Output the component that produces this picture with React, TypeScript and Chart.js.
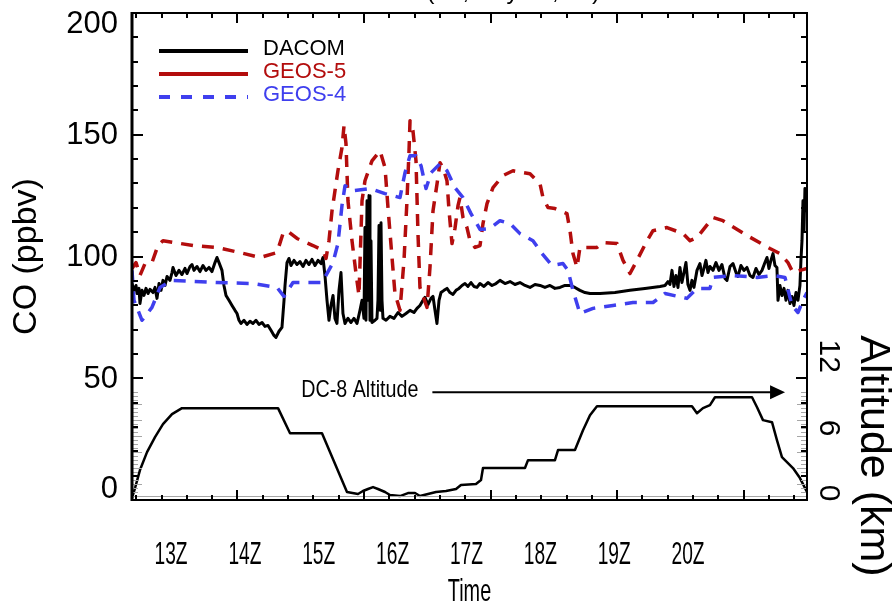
import React, { useEffect, useRef } from "react";
import { Chart, registerables } from "chart.js";

Chart.register(...registerables);

// ---------------- DATA (time in UTC hours) ----------------
const timeDACOM = [
  12.5, 12.526, 12.553, 12.566, 12.592, 12.605, 12.632, 12.658, 12.684, 12.711, 12.737, 12.777, 12.803, 12.829, 12.856, 12.882,
  12.908, 12.935, 12.961, 13.0, 13.027, 13.04, 13.079, 13.119, 13.158, 13.198, 13.224, 13.264, 13.29, 13.316, 13.356, 13.395,
  13.435, 13.474, 13.514, 13.553, 13.593, 13.619, 13.646, 13.685, 13.711, 13.738, 13.777, 13.817, 13.856, 13.883, 13.909, 13.935,
  13.975, 14.014, 14.054, 14.093, 14.133, 14.172, 14.212, 14.251, 14.291, 14.33, 14.37, 14.396, 14.436, 14.475, 14.502, 14.515,
  14.541, 14.567, 14.594, 14.633, 14.673, 14.712, 14.752, 14.791, 14.831, 14.87, 14.91, 14.949, 14.989, 15.015, 15.041, 15.068,
  15.094, 15.12, 15.147, 15.173, 15.199, 15.226, 15.252, 15.278, 15.305, 15.344, 15.384, 15.423, 15.463, 15.502, 15.529, 15.555,
  15.568, 15.581, 15.595, 15.608, 15.621, 15.634, 15.647, 15.66, 15.7, 15.726, 15.739, 15.753, 15.766, 15.779, 15.792, 15.805,
  15.845, 15.897, 15.95, 16.003, 16.055, 16.108, 16.161, 16.213, 16.253, 16.292, 16.332, 16.358, 16.398, 16.437, 16.464, 16.49,
  16.516, 16.543, 16.569, 16.609, 16.648, 16.687, 16.727, 16.767, 16.806, 16.846, 16.885, 16.924, 16.964, 17.003, 17.043, 17.082,
  17.135, 17.188, 17.24, 17.293, 17.346, 17.412, 17.478, 17.543, 17.609, 17.675, 17.741, 17.807, 17.873, 17.938, 18.004, 18.07,
  18.136, 18.202, 18.268, 18.333, 18.399, 18.465, 18.531, 18.663, 18.86, 19.058, 19.255, 19.453, 19.519, 19.558, 19.584, 19.611,
  19.637, 19.663, 19.69, 19.716, 19.742, 19.769, 19.795, 19.821, 19.848, 19.874, 19.9, 19.94, 19.979, 20.006, 20.032, 20.058,
  20.085, 20.111, 20.151, 20.19, 20.23, 20.269, 20.309, 20.335, 20.375, 20.414, 20.454, 20.48, 20.519, 20.559, 20.598, 20.638,
  20.677, 20.717, 20.756, 20.796, 20.835, 20.862, 20.888, 20.914, 20.941, 20.967, 20.993, 21.007, 21.033, 21.059, 21.086, 21.112,
  21.138, 21.165, 21.191, 21.217, 21.244, 21.27, 21.296, 21.309, 21.323, 21.336, 21.349, 21.362, 21.375, 21.389,
];
const coDACOM = [
  88.9, 86.1, 88.1, 84.8, 86.9, 80.7, 86.1, 84.0, 86.9, 84.8, 86.5, 85.2, 87.3, 82.8, 88.9, 86.1,
  90.2, 88.1, 91.8, 90.2, 93.4, 95.5, 92.2, 94.3, 92.6, 95.1, 93.0, 95.9, 96.7, 94.3, 95.9, 93.8,
  96.3, 94.3, 95.5, 93.8, 97.5, 99.6, 97.5, 94.3, 88.1, 84.0, 82.0, 79.9, 77.9, 76.6, 73.8, 72.5,
  73.8, 72.1, 73.4, 72.5, 73.8, 72.1, 72.9, 71.3, 71.7, 69.7, 67.6, 66.8, 69.3, 70.9, 82.0, 88.1,
  97.5, 99.2, 96.3, 98.4, 96.7, 97.9, 95.9, 98.4, 96.7, 98.8, 96.3, 98.4, 97.1, 99.6, 92.2, 82.0,
  73.8, 79.9, 84.0, 74.6, 72.5, 86.1, 93.4, 76.6, 72.5, 74.6, 72.9, 74.6, 72.5, 77.9, 82.0, 74.6,
  111.9, 73.8, 122.9, 82.0, 125.0, 73.8, 106.5, 72.9, 73.8, 74.6, 82.0, 112.7, 77.9, 113.9, 82.0, 74.6,
  73.8, 75.4, 74.6, 77.0, 75.4, 76.6, 77.9, 77.0, 78.7, 79.9, 82.0, 83.2, 80.3, 82.8, 83.6, 77.9,
  72.5, 82.0, 85.2, 86.1, 86.9, 85.2, 84.4, 86.1, 86.9, 88.1, 88.9, 87.7, 89.3, 87.7, 87.3, 88.9,
  87.7, 89.3, 88.1, 88.9, 90.2, 88.9, 89.7, 88.5, 89.3, 88.1, 87.3, 88.5, 88.1, 87.3, 88.1, 86.9,
  87.3, 88.1, 88.1, 87.3, 86.1, 85.2, 84.8, 84.8, 85.2, 86.1, 86.9, 87.7, 88.1, 89.7, 88.5, 94.3,
  87.7, 92.2, 87.3, 95.5, 89.3, 93.4, 97.5, 88.5, 86.1, 90.2, 87.3, 94.3, 97.1, 92.2, 95.1, 98.4,
  93.4, 95.9, 94.3, 97.5, 94.3, 96.7, 91.0, 90.2, 95.9, 97.1, 93.4, 91.8, 96.3, 94.3, 95.5, 92.2,
  91.4, 95.1, 92.6, 94.3, 97.5, 99.6, 95.1, 98.4, 101.2, 96.3, 95.5, 82.0, 88.1, 84.0, 86.9, 82.0,
  86.1, 80.7, 83.6, 79.9, 85.2, 82.0, 88.1, 98.4, 106.5, 122.9, 110.6, 127.9, 118.8, 125.0,
];

const timeGEOS5 = [
  12.5, 12.553, 12.605, 12.671, 12.763, 12.842, 12.908, 13.066, 13.303, 13.619, 13.922, 14.186, 14.409, 14.488, 14.541, 14.673,
  14.883, 15.015, 15.055, 15.094, 15.134, 15.173, 15.212, 15.265, 15.292, 15.318, 15.344, 15.397, 15.45, 15.489, 15.529, 15.568,
  15.66, 15.766, 15.832, 15.871, 15.924, 15.963, 16.029, 16.082, 16.121, 16.148, 16.161, 16.2, 16.24, 16.266, 16.292, 16.385,
  16.424, 16.464, 16.517, 16.556, 16.596, 16.648, 16.675, 16.714, 16.753, 16.793, 16.819, 16.859, 16.911, 16.951, 17.017, 17.083,
  17.122, 17.175, 17.254, 17.385, 17.517, 17.741, 17.873, 17.912, 17.978, 18.07, 18.228, 18.268, 18.307, 18.36, 18.399, 18.623,
  18.702, 18.887, 18.966, 19.058, 19.15, 19.282, 19.361, 19.545, 19.756, 19.848, 19.94, 20.151, 20.282, 20.599, 20.901, 21.033,
  21.138, 21.204, 21.296, 21.389,
];
const coGEOS5 = [
  95.1, 97.5, 92.2, 97.1, 97.5, 104.5, 106.5, 105.7, 104.5, 103.7, 101.6, 99.6, 101.6, 109.4, 110.6, 107.4,
  104.5, 102.5, 99.2, 106.5, 118.8, 127.0, 135.2, 144.7, 153.7, 146.3, 122.9, 106.5, 93.0, 84.0, 122.9, 131.1,
  139.3, 143.4, 136.5, 120.1, 99.6, 84.8, 77.9, 98.4, 122.9, 143.4, 155.7, 151.6, 139.3, 109.4, 87.3, 79.1,
  95.5, 118.8, 129.9, 138.5, 136.5, 131.1, 118.8, 105.3, 111.5, 120.9, 124.2, 116.0, 111.9, 106.5, 103.7, 104.5,
  113.5, 121.7, 128.3, 133.2, 135.2, 134.0, 129.9, 124.2, 120.1, 119.7, 117.6, 110.6, 101.2, 95.5, 103.7, 103.7,
  105.7, 105.3, 98.4, 93.0, 98.4, 106.5, 110.6, 111.9, 109.4, 106.5, 107.8, 116.0, 114.7, 108.6, 103.3, 101.2,
  97.5, 93.4, 94.3, 95.1,
];

const timeGEOS4 = [
  12.5, 12.526, 12.632, 12.763, 12.869, 13.027, 13.619, 14.093, 14.409, 14.501, 14.62, 15.002, 15.147, 15.212, 15.265, 15.305,
  15.397, 15.634, 15.832, 16.029, 16.095, 16.161, 16.24, 16.306, 16.372, 16.438, 16.556, 16.648, 16.753, 16.859, 16.964, 17.083,
  17.214, 17.346, 17.478, 17.609, 17.78, 17.899, 18.031, 18.175, 18.241, 18.307, 18.399, 18.571, 18.834, 19.097, 19.361, 19.519,
  19.808, 19.94, 20.111, 20.151, 20.414, 20.731, 20.941, 21.099, 21.191, 21.27, 21.336, 21.389,
];
const coGEOS4 = [
  94.3, 82.0, 73.8, 79.1, 87.3, 90.2, 89.3, 88.9, 87.3, 83.6, 89.3, 89.3, 97.5, 105.3, 120.9, 129.1,
  127.0, 127.9, 125.8, 124.2, 134.4, 141.4, 141.4, 137.3, 127.9, 134.4, 138.1, 135.2, 128.3, 124.2, 117.6, 111.1,
  111.5, 114.7, 113.5, 109.4, 106.5, 101.2, 96.3, 97.1, 94.3, 86.1, 76.6, 78.7, 79.9, 81.1, 81.1, 84.8,
  82.8, 86.9, 86.9, 91.4, 92.2, 91.4, 92.2, 91.4, 79.9, 77.0, 82.0, 85.2,
];

const timeAltitude = [
  12.5, 12.54, 12.605, 12.698, 12.803, 12.908, 13.027, 13.158, 14.423, 14.581, 15.002, 15.331, 15.476, 15.542, 15.608, 15.674,
  15.739, 15.832, 15.897, 16.029, 16.134, 16.227, 16.292, 16.398, 16.503, 16.635, 16.767, 16.832, 17.03, 17.096, 17.122, 17.675,
  17.715, 18.07, 18.11, 18.333, 18.439, 18.531, 18.623, 19.874, 19.94, 20.019, 20.111, 20.177, 20.665, 20.731, 20.809, 20.928,
  20.993, 21.059, 21.125, 21.204, 21.296, 21.389,
];
const altitudeKm = [
  0.17, 1.0, 2.5, 4.0, 5.25, 6.33, 7.17, 7.67, 7.67, 5.58, 5.58, 0.67, 0.5, 0.75, 0.92, 1.08,
  0.92, 0.67, 0.42, 0.33, 0.58, 0.58, 0.33, 0.5, 0.67, 0.75, 0.92, 1.25, 1.33, 1.67, 2.67, 2.67,
  3.33, 3.33, 4.17, 4.17, 5.83, 7.08, 7.83, 7.83, 7.25, 7.67, 7.92, 8.58, 8.58, 7.75, 6.67, 6.5,
  5.0, 3.58, 3.17, 2.67, 1.83, 0.67,
];

const seriesNames = ["DACOM", "GEOS-5", "GEOS-4"];
const seriesColors = ["#000000", "#b30d0d", "#3f3fee"];
const coTickLabels = [0, 50, 100, 150, 200];
const altTickLabels = [0, 6, 12];
const hourLabels = ["13Z", "14Z", "15Z", "16Z", "17Z", "18Z", "19Z", "20Z"];
// positions of the hour labels on the time axis
const hourLabelPos = [13.014, 13.987, 14.959, 15.932, 16.904, 17.877, 18.85, 19.822];
const xRangeSec = [45000, 77000];
const xMajorStartSec = 50000;
const xMajorStepSec = 6000;
const xMinorStepSec = 1200;
const altAxisMaxKm = 40.67;
const altGrayTickMaxKm = 9;
const annotationText = "DC-8 Altitude";
const annotationHour = 14.73;
const arrowEndHour = 21.1;
const annotationKm = 9;
const titleText = "DACOM CO (F3, July 10, 04)";

const FONT = '"Liberation Sans", Arial, Helvetica, sans-serif';

function pts(xs: number[], ys: number[]) {
  return xs.map((x, i) => ({ x, y: ys[i] }));
}

const decorPlugin = {
  id: "decor",
  afterDraw(chart: any) {
    const { ctx, chartArea: a, scales } = chart;
    const xs = scales.x;
    const ys = scales.y;
    const ya = scales.y1;
    const line = (x1: number, y1: number, x2: number, y2: number) => {
      ctx.beginPath();
      ctx.moveTo(x1, y1);
      ctx.lineTo(x2, y2);
      ctx.stroke();
    };
    ctx.save();

    // gray altitude ticks on both sides
    ctx.strokeStyle = "#a6a6a6";
    ctx.lineWidth = 1;
    for (let k = 0; k <= altGrayTickMaxKm * 3; k++) {
      const py = Math.round(ya.getPixelForValue(k / 3)) + 0.5;
      const len = k % 4 === 0 ? 10 : 6;
      line(a.left, py, a.left + len, py);
      line(a.right, py, a.right - len, py);
    }
    line(a.left, a.bottom - 3.5, a.right, a.bottom - 3.5);

    // frame
    ctx.strokeStyle = "#000";
    ctx.lineWidth = 2;
    ctx.strokeRect(a.left, a.top, a.right - a.left, a.bottom - a.top);
    ctx.lineWidth = 3;
    line(a.left, a.top - 1, a.left, a.bottom + 1);

    // x ticks (top and bottom, inward)
    ctx.lineWidth = 2;
    for (let t = xMajorStartSec - Math.floor((xMajorStartSec - xRangeSec[0]) / xMinorStepSec) * xMinorStepSec; t < xRangeSec[1]; t += xMinorStepSec) {
      if (t <= xRangeSec[0]) continue;
      const px = Math.round(xs.getPixelForValue(t / 3600));
      const major = (t - xMajorStartSec) % xMajorStepSec === 0;
      const len = major ? 10 : 5;
      line(px, a.top, px, a.top + len);
      line(px, a.bottom, px, a.bottom - len);
    }
    // y ticks (left and right, inward)
    for (let v = 10; v < 200; v += 10) {
      const py = Math.round(ys.getPixelForValue(v));
      const major = v % 50 === 0;
      const len = major ? 11 : 6;
      line(a.left, py, a.left + len, py);
      line(a.right, py, a.right - len, py);
    }

    ctx.fillStyle = "#000";
    // left tick labels
    ctx.font = `31px ${FONT}`;
    ctx.textAlign = "right";
    ctx.textBaseline = "middle";
    for (const v of coTickLabels) {
      const py = ys.getPixelForValue(v);
      const cy = Math.min(Math.max(py, a.top + 10), a.bottom - 12);
      ctx.fillText(String(v), a.left - 14, cy + 1);
    }

    // x labels (condensed)
    hourLabels.forEach((lab, i) => {
      const px = xs.getPixelForValue(hourLabelPos[i]);
      ctx.save();
      ctx.translate(px, a.bottom + 55);
      ctx.scale(0.6, 1);
      ctx.font = `32px ${FONT}`;
      ctx.textAlign = "center";
      ctx.textBaseline = "middle";
      ctx.fillText(lab, 0, 0);
      ctx.restore();
    });
    // x title
    ctx.save();
    ctx.translate((a.left + a.right) / 2, a.bottom + 92);
    ctx.scale(0.62, 1);
    ctx.font = `32px ${FONT}`;
    ctx.textAlign = "center";
    ctx.textBaseline = "middle";
    ctx.fillText("Time", 0, 0);
    ctx.restore();

    // left title
    ctx.save();
    ctx.translate(36, (a.top + a.bottom) / 2);
    ctx.rotate(-Math.PI / 2);
    ctx.font = `34px ${FONT}`;
    ctx.textAlign = "center";
    ctx.textBaseline = "alphabetic";
    ctx.fillText("CO (ppbv)", 0, 0);
    ctx.restore();

    // right altitude labels
    for (const v of altTickLabels) {
      const py = Math.min(ya.getPixelForValue(v), a.bottom - 7);
      ctx.save();
      ctx.translate(a.right + 21, py);
      ctx.rotate(Math.PI / 2);
      ctx.font = `30px ${FONT}`;
      ctx.textAlign = "center";
      ctx.textBaseline = "middle";
      ctx.fillText(String(v), 0, 0);
      ctx.restore();
    }
    // right title
    ctx.save();
    ctx.translate(a.right + 54, ya.getPixelForValue(12) - 21);
    ctx.rotate(Math.PI / 2);
    ctx.font = `43px ${FONT}`;
    ctx.textAlign = "left";
    ctx.textBaseline = "alphabetic";
    ctx.fillText("Altitude (km)", 0, 0);
    ctx.restore();

    // top (clipped) title
    ctx.font = `24px ${FONT}`;
    ctx.textAlign = "right";
    ctx.textBaseline = "alphabetic";
    ctx.fillText(titleText, 600, -1);

    // legend
    const lx0 = a.left + 27;
    const lx1 = a.left + 116;
    for (let i = 0; i < seriesNames.length; i++) {
      const ly = a.top + 38 + 23 * i;
      ctx.strokeStyle = seriesColors[i];
      ctx.lineWidth = 4;
      ctx.setLineDash(i === 2 ? [11, 11] : []);
      line(lx0, ly, lx1, ly);
      ctx.setLineDash([]);
      ctx.fillStyle = seriesColors[i];
      ctx.font = `22px ${FONT}`;
      ctx.textAlign = "left";
      ctx.textBaseline = "middle";
      ctx.fillText(seriesNames[i], a.left + 131, ly - 2);
    }

    // altitude annotation + arrow
    ctx.fillStyle = "#000";
    ctx.strokeStyle = "#000";
    const ax = xs.getPixelForValue(annotationHour);
    const ay = ya.getPixelForValue(annotationKm);
    ctx.save();
    ctx.translate(ax, ay - 2);
    ctx.scale(0.82, 1);
    ctx.font = `24px ${FONT}`;
    ctx.textAlign = "left";
    ctx.textBaseline = "middle";
    ctx.fillText(annotationText, 0, 0);
    const tw = ctx.measureText(annotationText).width * 0.82;
    ctx.restore();
    const ex = xs.getPixelForValue(arrowEndHour);
    ctx.lineWidth = 2;
    line(ax + tw + 14, ay, ex - 10, ay);
    ctx.beginPath();
    ctx.moveTo(ex, ay);
    ctx.lineTo(ex - 15, ay - 7);
    ctx.lineTo(ex - 15, ay + 7);
    ctx.closePath();
    ctx.fill();

    ctx.restore();
  },
};

export default function App() {
  const ref = useRef<HTMLCanvasElement>(null);
  useEffect(() => {
    document.body.style.margin = "0";
    const canvas = ref.current!;
    const chart = new Chart(canvas, {
      type: "line",
      data: {
        datasets: [
          {
            label: "GEOS-4",
            data: pts(timeGEOS4, coGEOS4),
            borderColor: seriesColors[2],
            borderWidth: 3.5,
            borderDash: [12, 9],
            yAxisID: "y",
            order: 0,
          },
          {
            label: "GEOS-5",
            data: pts(timeGEOS5, coGEOS5),
            borderColor: seriesColors[1],
            borderWidth: 3.5,
            borderDash: [12, 9],
            yAxisID: "y",
            order: 1,
          },
          {
            label: "DACOM",
            data: pts(timeDACOM, coDACOM),
            borderColor: seriesColors[0],
            borderWidth: 3,
            yAxisID: "y",
            order: 2,
          },
          {
            label: "DC-8 Altitude",
            data: pts(timeAltitude, altitudeKm),
            borderColor: "#000",
            borderWidth: 2.5,
            yAxisID: "y1",
            order: 3,
          },
        ] as any,
      },
      options: {
        responsive: false,
        animation: false,
        devicePixelRatio: 1,
        events: [],
        layout: { padding: { left: 132, right: 88, top: 13, bottom: 105 } },
        elements: { point: { radius: 0 }, line: { tension: 0, borderJoinStyle: "round", borderCapStyle: "butt" } },
        plugins: { legend: { display: false }, tooltip: { enabled: false }, title: { display: false } },
        scales: {
          x: { type: "linear", display: false, min: xRangeSec[0] / 3600, max: xRangeSec[1] / 3600 },
          y: { type: "linear", display: false, min: 0, max: 200 },
          y1: { type: "linear", display: false, position: "right", min: 0, max: altAxisMaxKm },
        },
      } as any,
      plugins: [decorPlugin],
    });
    return () => chart.destroy();
  }, []);
  return <canvas ref={ref} width={895} height={605} style={{ display: "block" }} />;
}
